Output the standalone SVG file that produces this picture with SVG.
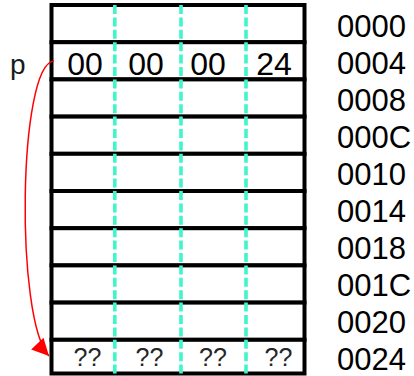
<svg xmlns="http://www.w3.org/2000/svg" width="414" height="376" viewBox="0 0 414 376">
  <style>
    .cell { fill: #ffffff; stroke: #000000; stroke-width: 4; }
    .lane { stroke: #40F5CA; stroke-width: 3.6; stroke-dasharray: 9 3.4; fill: none; }
    .byte { font-family: "Liberation Sans", Arial, sans-serif; font-size: 32px; fill: #000000; text-anchor: middle; }
    .unk { font-family: "Liberation Sans", Arial, sans-serif; font-size: 25px; fill: #262626; text-anchor: middle; }
    .addr { font-family: "Liberation Sans", Arial, sans-serif; font-size: 31px; fill: #000000; }
    .ptr { font-family: "Liberation Sans", Arial, sans-serif; font-size: 28px; fill: #1a1a1a; }
    .link { fill: none; stroke: #FF0000; stroke-width: 1.5; }
  </style>
  <defs>
    <marker id="arrow" markerUnits="userSpaceOnUse" markerWidth="18" markerHeight="18"
            viewBox="-17 -9 18 18" refX="0" refY="0" orient="auto" overflow="visible">
      <path d="M0,0 L-17,-8.5 L-17,8.5 Z" fill="#FF0000"/>
    </marker>
  </defs>

  <rect width="414" height="376" fill="#ffffff"/>

  <!-- memory words, one row per 4-byte address -->
  <g id="word-0000"><rect class="cell" x="51.5" y="5" width="253" height="37.2"/></g>
  <g id="word-0004">
    <rect class="cell" x="51.5" y="42.2" width="253" height="37.2"/>
    <text class="byte" x="85" y="74.5">00</text>
    <text class="byte" x="146" y="74.5">00</text>
    <text class="byte" x="208" y="74.5">00</text>
    <text class="byte" x="274" y="74.5">24</text>
  </g>
  <g id="word-0008"><rect class="cell" x="51.5" y="79.4" width="253" height="37.2"/></g>
  <g id="word-000C"><rect class="cell" x="51.5" y="116.6" width="253" height="37.2"/></g>
  <g id="word-0010"><rect class="cell" x="51.5" y="153.8" width="253" height="37.2"/></g>
  <g id="word-0014"><rect class="cell" x="51.5" y="191" width="253" height="37.2"/></g>
  <g id="word-0018"><rect class="cell" x="51.5" y="228.2" width="253" height="37.2"/></g>
  <g id="word-001C"><rect class="cell" x="51.5" y="265.4" width="253" height="37.2"/></g>
  <g id="word-0020"><rect class="cell" x="51.5" y="302.6" width="253" height="37.2"/></g>
  <g id="word-0024">
    <rect class="cell" x="51.5" y="339.8" width="253" height="33.7"/>
    <text class="unk" x="87.5" y="366">??</text>
    <text class="unk" x="149.5" y="366">??</text>
    <text class="unk" x="213" y="366">??</text>
    <text class="unk" x="278.5" y="366">??</text>
  </g>

  <!-- byte lane separators -->
  <g id="lanes">
    <line class="lane" x1="114.8" y1="5" x2="114.8" y2="376"/>
    <line class="lane" x1="181" y1="5" x2="181" y2="376"/>
    <line class="lane" x1="246" y1="5" x2="246" y2="376"/>
  </g>

  <!-- addresses -->
  <g id="addresses">
    <text class="addr" x="337" y="36.5">0000</text>
    <text class="addr" x="337" y="73.5">0004</text>
    <text class="addr" x="337" y="110.5">0008</text>
    <text class="addr" x="337" y="147.5">000C</text>
    <text class="addr" x="337" y="184.5">0010</text>
    <text class="addr" x="337" y="221.5">0014</text>
    <text class="addr" x="337" y="258.5">0018</text>
    <text class="addr" x="337" y="295.5">001C</text>
    <text class="addr" x="337" y="332.5">0020</text>
    <text class="addr" x="337" y="369.5">0024</text>
  </g>

  <!-- pointer p -->
  <g id="pointer-p">
    <text class="ptr" x="10" y="74">p</text>
  </g>

  <!-- connectors -->
  <g id="connectors">
    <path class="link" d="M54,61 C18,64 15,320 49,356" marker-end="url(#arrow)"/>
  </g>
</svg>
